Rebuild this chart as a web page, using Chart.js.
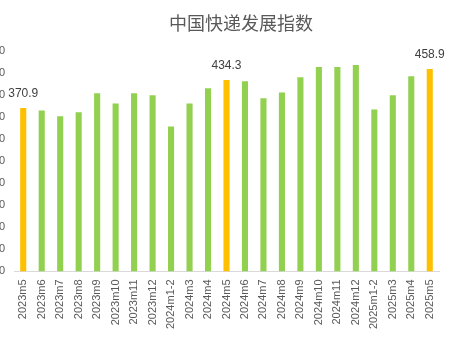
<!DOCTYPE html>
<html>
<head>
<meta charset="utf-8">
<script src="https://cdn.jsdelivr.net/npm/chart.js@4/dist/chart.umd.min.js"></script>
<style>
  html, body { margin:0; padding:0; background:#fff; overflow:hidden; }
  #wrap { position:absolute; left:-30px; top:0; width:486px; height:342px; }
</style>
</head>
<body>
<div id="wrap"><canvas id="c"></canvas></div>
<script>
// ── DATOS ─────────────────────────────────────
const periodos = ['2023m5','2023m6','2023m7','2023m8','2023m9','2023m10','2023m11','2023m12',
  '2024m1-2','2024m3','2024m4','2024m5','2024m6','2024m7','2024m8','2024m9','2024m10','2024m11','2024m12',
  '2025m1-2','2025m3','2025m4','2025m5'];
const indice = [370.9,365,352,361,404,381,404,399.5,
  329,381,415.5,434.3,431.5,393,406,440.5,463.5,463.5,468,
  367.5,399.5,443,458.9];
const destacados = ['2023m5','2024m5','2025m5'];
const yTicks = [0,50,100,150,200,250,300,350,400,450,500];
const TITULO = '中国快递发展指数';

const VERDE = '#92D050', NARANJA = '#FFC000', GRIS = '#595959';

// título centrado como en el original (no sobre todo el lienzo)
const titulo = {
  id:'titulo',
  afterDraw(chart){
    const ctx = chart.ctx;
    ctx.save();
    ctx.font = '18px "Noto Sans CJK SC", sans-serif';
    ctx.fillStyle = GRIS;
    ctx.textAlign = 'center';
    ctx.textBaseline = 'middle';
    ctx.fillText(TITULO, 271, 23);
    ctx.restore();
  }
};

// etiquetas de valor solo en los meses destacados
const etiquetas = {
  id:'etiquetas',
  afterDatasetsDraw(chart){
    const ctx = chart.ctx, meta = chart.getDatasetMeta(0);
    ctx.save();
    ctx.font = '12px "Liberation Sans", sans-serif';
    ctx.fillStyle = '#404040';
    ctx.textAlign = 'center';
    ctx.textBaseline = 'bottom';
    periodos.forEach((p,i)=>{
      if(!destacados.includes(p)) return;
      const bar = meta.data[i];
      ctx.fillText(indice[i].toFixed(1), bar.x, bar.y - 8);
    });
    ctx.restore();
  }
};

new Chart(document.getElementById('c'), {
  type:'bar',
  data:{
    labels:periodos,
    datasets:[{
      data:indice,
      backgroundColor:periodos.map(p=>destacados.includes(p)?NARANJA:VERDE),
      borderWidth:0,
      categoryPercentage:1,
      barPercentage:0.33,
    }]
  },
  options:{
    responsive:true, maintainAspectRatio:false, animation:false,
    layout:{padding:{left:0,right:17,top:51,bottom:5}},
    plugins:{
      legend:{display:false},
      tooltip:{enabled:false},
      title:{display:false}
    },
    scales:{
      x:{
        grid:{display:false,drawTicks:false},
        border:{color:'#D9D9D9'},
        ticks:{color:GRIS,font:{family:'"Liberation Sans", sans-serif',size:11},
          minRotation:90,maxRotation:90,padding:8,autoSkip:false}
      },
      y:{
        min:0,max:500,
        afterBuildTicks:s=>{ s.ticks = yTicks.map(v=>({value:v})); },
        afterFit:s=>{ s.width = 44; },
        grid:{display:false,drawTicks:false},
        border:{display:false},
        ticks:{color:GRIS,font:{family:'"Liberation Sans", sans-serif',size:11},padding:9}
      }
    }
  },
  plugins:[titulo, etiquetas]
});
</script>
</body>
</html>
